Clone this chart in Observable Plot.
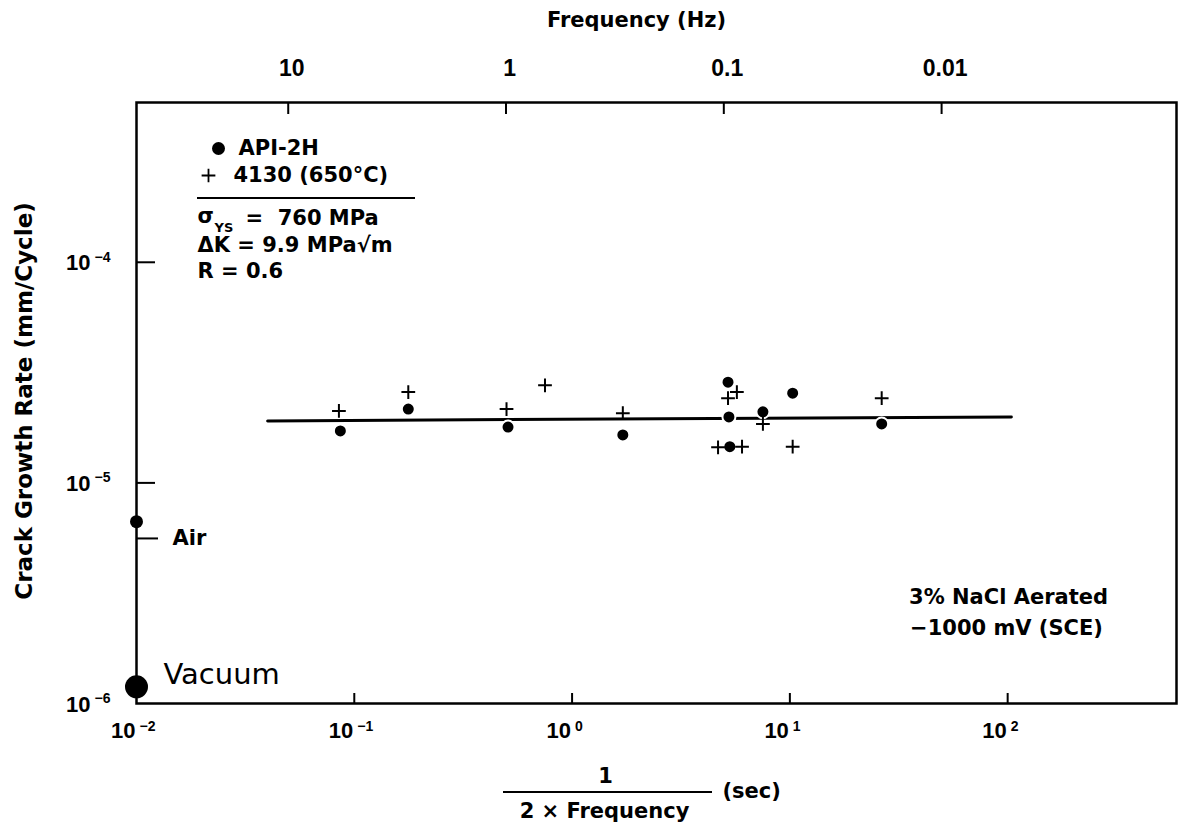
<!DOCTYPE html>
<html><head><meta charset="utf-8">
<script src="https://cdn.jsdelivr.net/npm/d3@7"></script>
<script src="https://cdn.jsdelivr.net/npm/@observablehq/plot@0.6"></script>
<style>html,body{margin:0;padding:0;background:#fff}</style>
</head><body><div id="chart"></div>
<script>
// ---- tick values and labels ----
const periodTicks = [0.01, 0.1, 1, 10, 100];
const periodTickBase = ["10", "10", "10", "10", "10"];
const periodTickExp = ["\u22122", "\u22121", "0", "1", "2"];
const freqTicks = [10, 1, 0.1, 0.01];
const freqTickLabels = ["10", "1", "0.1", "0.01"];
const rateTicks = [1e-6, 1e-5, 1e-4];
const rateTickBase = ["10", "10", "10"];
const rateTickExp = ["\u22126", "\u22125", "\u22124"];

// ---- data: API-2H (filled circles) ----
const api2hPeriod = [0.0863, 0.177, 0.508, 1.71, 5.2, 5.25, 5.3, 7.52, 10.3, 26.4];
const api2hRate   = [1.72e-5, 2.16e-5, 1.79e-5, 1.65e-5, 2.86e-5, 1.99e-5, 1.46e-5, 2.10e-5, 2.55e-5, 1.85e-5];
// ---- data: 4130 (650°C) (plus signs) ----
const a4130Period = [0.085, 0.177, 0.50, 0.751, 1.71, 4.68, 5.2, 5.71, 6.03, 7.52, 10.3, 26.4];
const a4130Rate   = [2.12e-5, 2.58e-5, 2.16e-5, 2.77e-5, 2.07e-5, 1.45e-5, 2.42e-5, 2.58e-5, 1.46e-5, 1.85e-5, 1.46e-5, 2.42e-5];
// ---- reference points ----
const airPeriod = [0.01];
const airRate = [6.67e-6];
const airMarkRate = [5.6e-6];
const vacuumPeriod = [0.01];
const vacuumRate = [1.19e-6];
// ---- fitted line ----
const fitPeriod = [0.040, 104];
const fitRate = [1.91e-5, 1.99e-5];

const toRows = (xs, ys) => xs.map((x, i) => ({period: x, rate: ys[i]}));
const api2h = toRows(api2hPeriod, api2hRate);
const a4130 = toRows(a4130Period, a4130Rate);
const air = toRows(airPeriod, airRate);
const vacuum = toRows(vacuumPeriod, vacuumRate);
const fit = toRows(fitPeriod, fitRate);

const freqRows = freqTicks.map((f, i) => ({period: 1 / (2 * f), label: freqTickLabels[i]}));
const periodRows = periodTicks.map((t, i) => ({v: t, base: periodTickBase[i], exp: periodTickExp[i]}));
const rateRows = rateTicks.map((t, i) => ({v: t, base: rateTickBase[i], exp: rateTickExp[i]}));

const BOLD = {fontFamily: "DejaVu Sans", fontWeight: "bold", fontSize: 21, fill: "black", lineAnchor: "middle"};
const TICKF = {fontFamily: "Liberation Sans, Arial, sans-serif", fontWeight: "bold", fill: "black", lineAnchor: "middle"};

// decorative strokes: top (frequency) inward ticks, legend rule, fraction bar
const decorations = (index, scales, values, dims) => {
  const g = d3.create("svg:g").attr("stroke", "black").attr("stroke-width", 2).attr("fill", "none");
  const L = dims.marginLeft, T = dims.marginTop, B = dims.height - dims.marginBottom;
  const cx = (dims.marginLeft + dims.width - dims.marginRight) / 2;
  for (const d of freqRows) {
    const px = scales.x(d.period);
    g.append("line").attr("x1", px).attr("x2", px).attr("y1", T).attr("y2", T + 12);
  }
  g.append("line").attr("x1", L + 61).attr("x2", L + 279).attr("y1", T + 96).attr("y2", T + 96);
  g.append("line").attr("x1", cx - 153).attr("x2", cx + 56).attr("y1", B + 89).attr("y2", B + 89);
  return g.node();
};

const chart = Plot.plot({
  width: 1185, height: 839,
  marginLeft: 136, marginRight: 9, marginTop: 102, marginBottom: 136,
  style: {fontFamily: "DejaVu Sans", background: "white", color: "black", overflow: "visible"},
  x: {type: "log", domain: [0.01, 596]},
  y: {type: "log", domain: [1.0e-6, 5.3e-4]},
  marks: [
    Plot.frame({strokeWidth: 2.5}),
    // bottom axis: inward ticks + labels with exponents
    Plot.axisX(periodTicks.slice(1), {anchor: "bottom", tickSize: -10, strokeWidth: 2, fill: "none", label: null}),
    Plot.text(periodRows, {x: "v", text: "base", frameAnchor: "bottom", textAnchor: "end", dx: -1, dy: 27, fontSize: 22, ...TICKF}),
    Plot.text(periodRows, {x: "v", text: "exp", frameAnchor: "bottom", textAnchor: "start", dx: 3, dy: 23, fontSize: 14, ...TICKF}),
    // top axis (frequency) labels
    Plot.text(freqRows, {x: "period", text: "label", frameAnchor: "top", dx: 3, dy: -34, fontSize: 23, ...TICKF}),
    // left axis
    Plot.axisY(rateTicks.slice(1), {anchor: "left", tickSize: -19, strokeWidth: 2, fill: "none", label: null}),
    Plot.axisY(airMarkRate, {anchor: "left", tickSize: -22, strokeWidth: 2, fill: "none", label: null}),
    Plot.text(rateRows, {y: "v", text: "base", frameAnchor: "left", textAnchor: "end", dx: -46, dy: 1, fontSize: 22, ...TICKF}),
    Plot.text(rateRows, {y: "v", text: "exp", frameAnchor: "left", textAnchor: "start", dx: -42, dy: -5, fontSize: 14, ...TICKF}),
    // axis titles
    Plot.text(["Frequency (Hz)"], {frameAnchor: "top", dx: -20, dy: -82, ...BOLD}),
    Plot.text(["Crack Growth Rate (mm/Cycle)"], {frameAnchor: "left", textAnchor: "middle", dx: -112, dy: -2, rotate: -90, ...BOLD, fontSize: 23}),
    Plot.text(["1"], {frameAnchor: "bottom", dx: -51, dy: 73, ...BOLD}),
    Plot.text(["2 \u00D7 Frequency"], {frameAnchor: "bottom", dx: -52, dy: 108, ...BOLD}),
    Plot.text(["(sec)"], {frameAnchor: "bottom", dx: 66, dy: 88, textAnchor: "start", ...BOLD}),
    // data
    Plot.line(fit, {x: "period", y: "rate", strokeWidth: 3}),
    Plot.dot(api2h, {x: "period", y: "rate", r: 6.5, fill: "black", stroke: "white", strokeWidth: 2}),
    Plot.dot(a4130, {x: "period", y: "rate", symbol: "plus", r: 4.5, stroke: "black", strokeWidth: 2}),
    Plot.dot(air, {x: "period", y: "rate", r: 6.5, fill: "black"}),
    Plot.dot(vacuum, {x: "period", y: "rate", r: 11.5, fill: "black"}),
    Plot.text(["Air"], {x: airPeriod, y: airMarkRate, dx: 36, textAnchor: "start", ...BOLD}),
    Plot.text(["Vacuum"], {x: vacuumPeriod, y: vacuumRate, dx: 27, dy: -12, textAnchor: "start", fontFamily: "DejaVu Sans", fontSize: 29, fill: "black", lineAnchor: "middle"}),
    // legend / annotation box
    Plot.dot([0], {frameAnchor: "top-left", dx: 82, dy: 46, r: 6.5, fill: "black"}),
    Plot.dot([0], {frameAnchor: "top-left", dx: 72, dy: 73, r: 4.5, symbol: "plus", stroke: "black", strokeWidth: 1.8}),
    Plot.text(["API-2H"], {frameAnchor: "top-left", dx: 102, dy: 46, textAnchor: "start", ...BOLD}),
    Plot.text(["4130 (650\u00B0C)"], {frameAnchor: "top-left", dx: 97, dy: 73, textAnchor: "start", ...BOLD}),
    Plot.text(["\u03C3"], {frameAnchor: "top-left", dx: 61, dy: 114, textAnchor: "start", ...BOLD}),
    Plot.text(["YS"], {frameAnchor: "top-left", dx: 78, dy: 125, textAnchor: "start", ...BOLD, fontSize: 13}),
    Plot.text(["=  760 MPa"], {frameAnchor: "top-left", dx: 109, dy: 116, textAnchor: "start", ...BOLD}),
    Plot.text(["\u0394K = 9.9 MPa\u221Am"], {frameAnchor: "top-left", dx: 61, dy: 143, textAnchor: "start", ...BOLD}),
    Plot.text(["R = 0.6"], {frameAnchor: "top-left", dx: 61, dy: 169, textAnchor: "start", ...BOLD}),
    // environment note
    Plot.text(["3% NaCl Aerated"], {frameAnchor: "bottom-right", textAnchor: "middle", dx: -168, dy: -106, ...BOLD}),
    Plot.text(["\u22121000 mV (SCE)"], {frameAnchor: "bottom-right", textAnchor: "middle", dx: -170, dy: -75, ...BOLD}),
    decorations
  ]
});
document.getElementById("chart").appendChild(chart);
</script>
</body></html>
